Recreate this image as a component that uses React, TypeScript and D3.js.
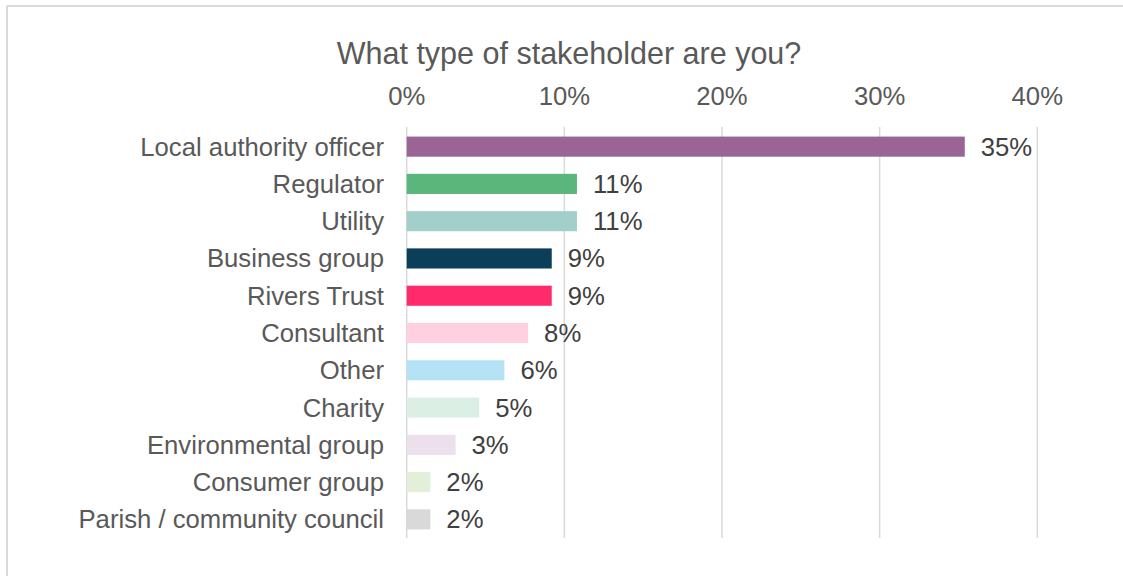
import React from "react";
import * as d3 from "d3";

const categories = [
  "Local authority officer",
  "Regulator",
  "Utility",
  "Business group",
  "Rivers Trust",
  "Consultant",
  "Other",
  "Charity",
  "Environmental group",
  "Consumer group",
  "Parish / community council",
];
const values = [35.4, 10.8, 10.8, 9.2, 9.2, 7.7, 6.2, 4.6, 3.1, 1.5, 1.5];
const colors = [
  "#9b6497",
  "#5bb67b",
  "#a3cfcb",
  "#0b3f59",
  "#ff2a6b",
  "#ffd0df",
  "#b5e3f5",
  "#dcefe4",
  "#ebe0ec",
  "#e2f0da",
  "#d9d9d9",
];
const ticks = [0, 10, 20, 30, 40];
const title = "What type of stakeholder are you?";

const W = 1123;
const H = 576;
const FONT = "'Liberation Sans', Arial, sans-serif";

export default function App() {
  const x = d3.scaleLinear().domain([0, 40]).range([406.7, 1037.3]);
  const y = d3
    .scaleBand<string>()
    .domain(categories)
    .range([128, 538])
    .paddingInner(0.46)
    .paddingOuter(0.23);

  return (
    <svg
      width={W}
      height={H}
      style={{ position: "absolute", left: 0, top: 0, display: "block", background: "#fff" }}
      fontFamily={FONT}
    >
      <rect x={0} y={0} width={W} height={H} fill="#ffffff" />
      {/* frame */}
      <line x1={7} x2={W} y1={6} y2={6} stroke="#d9d9d9" strokeWidth={2} />
      <line x1={7} x2={7} y1={6} y2={H} stroke="#d9d9d9" strokeWidth={2} />

      <text x={569} y={64} textAnchor="middle" fontSize={30.5} fill="#595959">
        {title}
      </text>

      {ticks.map((t) => (
        <g key={t}>
          <line x1={x(t)} x2={x(t)} y1={127} y2={538} stroke="#d9d9d9" strokeWidth={1.5} />
          <text x={x(t)} y={105} textAnchor="middle" fontSize={25.7} fill="#595959">
            {t}%
          </text>
        </g>
      ))}

      {categories.map((c, i) => {
        const yc = (y(c) as number) + y.bandwidth() / 2;
        return (
          <g key={c}>
            <rect
              x={x(0)}
              y={y(c)}
              width={x(values[i]) - x(0)}
              height={y.bandwidth()}
              fill={colors[i]}
            />
            <text x={384} y={yc + 9} textAnchor="end" fontSize={25.7} fill="#595959">
              {c}
            </text>
            <text x={x(values[i]) + 16} y={yc + 9} fontSize={25.7} fill="#404040">
              {Math.round(values[i])}%
            </text>
          </g>
        );
      })}
    </svg>
  );
}
